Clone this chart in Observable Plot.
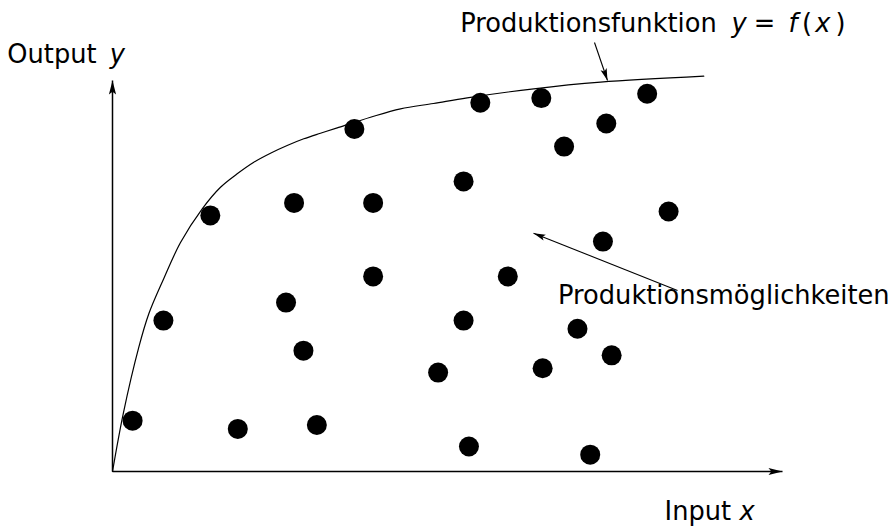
<!DOCTYPE html>
<html>
<head>
<meta charset="utf-8">
<script src="https://cdn.jsdelivr.net/npm/d3@7"></script>
<script src="https://cdn.jsdelivr.net/npm/@observablehq/plot@0.6"></script>
<style>
  html, body { margin: 0; padding: 0; background: #fff; }
  #chart svg { display: block; }
</style>
</head>
<body>
<div id="chart"></div>
<script>
// Production function curve
const curveX = [0, 0.160, 0.393, 0.542, 0.766, 1.015, 1.339, 1.612, 1.861, 2.109, 2.358, 2.607, 2.855, 3.104, 3.354, 3.851, 4.299, 4.791, 5.294, 6.288, 7.284, 8.825];
const curveY = [0, 1.476, 3.179, 4.033, 4.936, 5.857, 6.719, 7.271, 7.614, 7.910, 8.141, 8.338, 8.509, 8.652, 8.790, 9.061, 9.276, 9.412, 9.558, 9.788, 9.957, 10.110];

// Production possibilities (points)
const pointX = [0.30, 0.76, 1.46, 1.87, 2.59, 2.71, 2.85, 3.05, 3.61, 3.89, 3.89, 4.86, 5.24, 5.24, 5.32, 5.49, 5.90, 6.40, 6.42, 6.74, 6.94, 7.13, 7.32, 7.37, 7.45, 7.98, 8.30];
const pointY = [1.30, 3.86, 6.55, 1.09, 4.32, 6.87, 3.09, 1.19, 8.76, 6.87, 4.99, 2.53, 7.42, 3.86, 0.64, 9.43, 4.99, 9.55, 2.64, 8.31, 3.65, 0.43, 5.88, 8.90, 2.97, 9.66, 6.65];

const curve = curveX.map((x, i) => ({x, y: curveY[i]}));
const points = pointX.map((x, i) => ({x, y: pointY[i]}));

const font = "DejaVu Sans";
const fs = 25.7;

const plot = Plot.plot({
  width: 893,
  height: 527,
  marginLeft: 112,
  marginRight: 111,
  marginTop: 80,
  marginBottom: 56,
  x: {domain: [0, 10], axis: null},
  y: {domain: [0, 10], axis: null},
  style: {background: "#fff", fontFamily: font},
  marks: [
    // axes (first link mark)
    Plot.link([{x1: 0, y1: 0, x2: 10, y2: 0}, {x1: 0, y1: 0, x2: 0, y2: 10}],
      {x1: "x1", y1: "y1", x2: "x2", y2: "y2", stroke: "#000", strokeWidth: 1.5}),
    Plot.line(curve, {x: "x", y: "y", curve: "catmull-rom", stroke: "#000", strokeWidth: 1.2}),
    Plot.dot(points, {x: "x", y: "y", r: 10, fill: "#000", stroke: "none"}),
    // annotation arrows (second link mark)
    Plot.link([
        {x1: 7.194, y1: 10.972, x2: 7.388, y2: 10.0},
        {x1: 8.433, y1: 4.629, x2: 6.284, y2: 6.095}
      ],
      {x1: "x1", y1: "y1", x2: "x2", y2: "y2", stroke: "#000", strokeWidth: 1.1}),
    Plot.text([
        {t: "Output", x: -1.57, y: 10.435},
        {t: "Input", x: 8.24, y: -1.228},
        {t: "Produktionsfunktion", x: 5.19, y: 11.23},
        {t: "=", x: 9.57, y: 11.23},
        {t: "(", x: 10.29, y: 11.23},
        {t: ")", x: 10.79, y: 11.23},
        {t: "Produktionsmöglichkeiten", x: 6.65, y: 4.289}
      ],
      {x: "x", y: "y", text: "t", textAnchor: "start", lineAnchor: "bottom", fontSize: fs, fill: "#000"}),
    Plot.text([
        {t: "y", x: -0.04, y: 10.435},
        {t: "x", x: 9.36, y: -1.228},
        {t: "y", x: 9.24, y: 11.23},
        {t: "f", x: 10.09, y: 11.23},
        {t: "x", x: 10.49, y: 11.23}
      ],
      {x: "x", y: "y", text: "t", textAnchor: "start", lineAnchor: "bottom", fontSize: fs, fontStyle: "italic", fill: "#000"})
  ]
});

// Filled arrow heads
const ns = "http://www.w3.org/2000/svg";
const defs = document.createElementNS(ns, "defs");
function mk(id, len, half) {
  const m = document.createElementNS(ns, "marker");
  m.setAttribute("id", id);
  m.setAttribute("markerUnits", "userSpaceOnUse");
  m.setAttribute("viewBox", `0 ${-half - 1} ${len + 1} ${2 * half + 2}`);
  m.setAttribute("refX", len);
  m.setAttribute("refY", 0);
  m.setAttribute("markerWidth", len + 1);
  m.setAttribute("markerHeight", 2 * half + 2);
  m.setAttribute("orient", "auto");
  m.setAttribute("overflow", "visible");
  const p = document.createElementNS(ns, "path");
  p.setAttribute("d", `M0,${-half}L${len},0L0,${half}L${len * 0.2},0Z`);
  p.setAttribute("fill", "#000");
  p.setAttribute("stroke", "none");
  m.appendChild(p);
  defs.appendChild(m);
}
mk("ahAxis", 14, 3.6);
mk("ahNote", 12, 3.2);
plot.insertBefore(defs, plot.firstChild);
const linkGroups = plot.querySelectorAll('g[aria-label="link"]');
if (linkGroups[0]) linkGroups[0].querySelectorAll("path, line").forEach(e => e.setAttribute("marker-end", "url(#ahAxis)"));
if (linkGroups[1]) linkGroups[1].querySelectorAll("path, line").forEach(e => e.setAttribute("marker-end", "url(#ahNote)"));

document.getElementById("chart").appendChild(plot);
</script>
</body>
</html>
